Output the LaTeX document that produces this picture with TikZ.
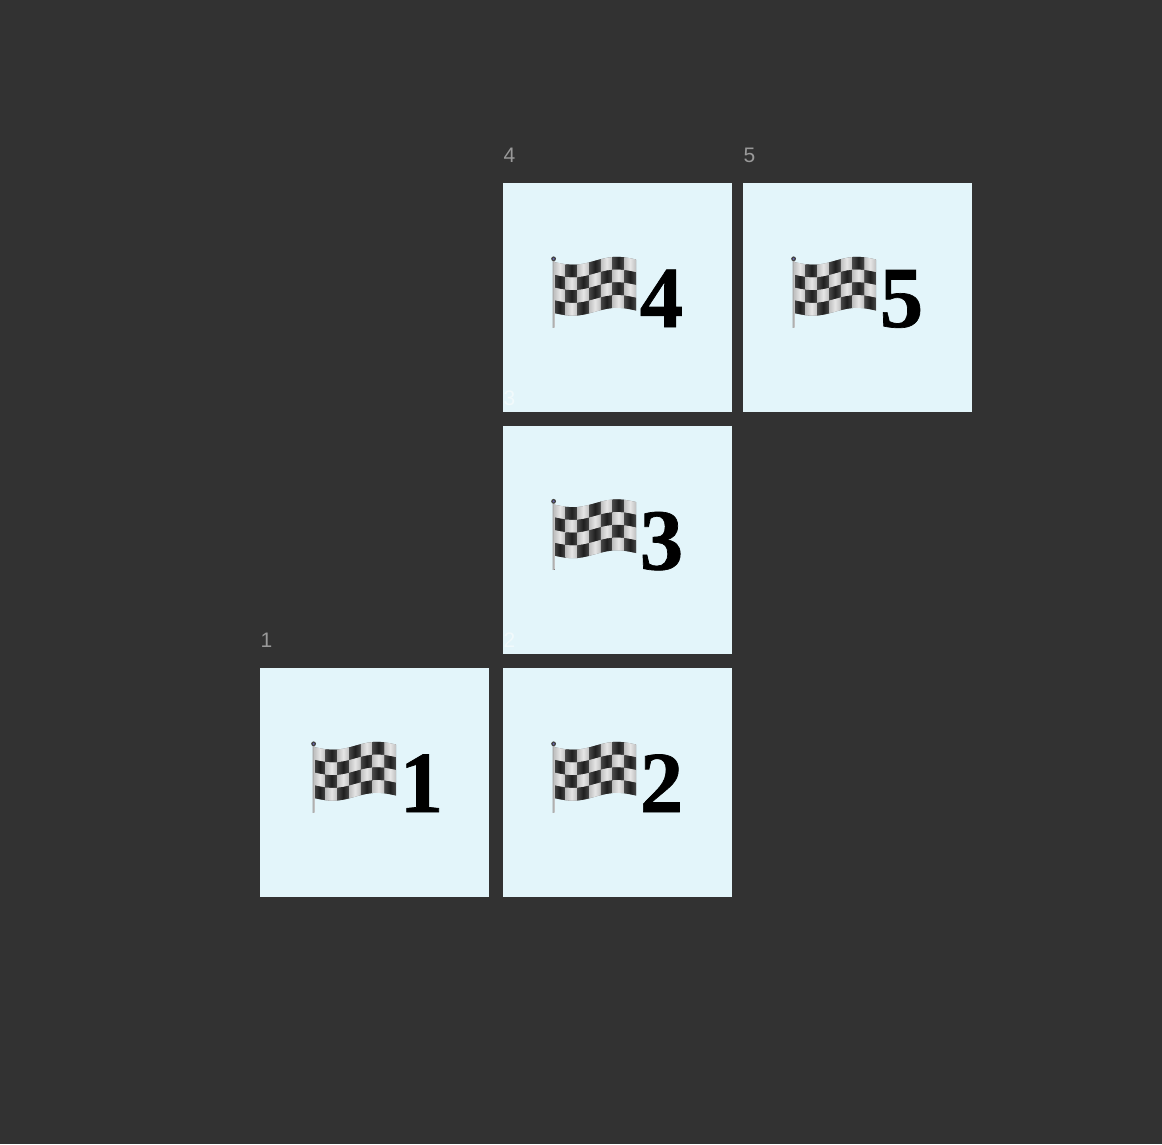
\documentclass[tikz,border=0pt]{standalone}
\usepackage{fontspec}
\setmainfont{Liberation Serif}[BoldFeatures={FakeBold=0.8}]
\setsansfont{Liberation Sans}
\definecolor{bgc}{HTML}{323232}
\definecolor{cellc}{HTML}{E3F5FA}
\definecolor{labc}{HTML}{999999}
\definecolor{labin}{HTML}{F1FAFC}
\tikzset{
  x=1pt,y=-1pt,
  declare function={fw(\u)=3.3*sin(360*\u)-2.5*\u;},
  cellbox/.style={anchor=north west,inner sep=0pt,outer sep=0pt,fill=cellc,draw=none,minimum width=229pt,minimum height=228.5pt},
  idlab/.style={anchor=base west,inner sep=0pt,font=\sffamily\fontsize{21}{21}\selectfont,text=labc},
  idlabin/.style={idlab,text=labin},
  bignum/.style={anchor=base west,inner sep=0pt,font=\bfseries\fontsize{87}{87}\selectfont,text=black},
  lightsq/.style={left color=black!25,right color=black!25,middle color=black!10},
  darksq/.style={left color=black!72,right color=black!72,middle color=black!88},
}
% #1,#2: foot of the pole
\newcommand{\checkflag}[2]{%
  \begin{scope}[shift={(#1,#2-69)}]
    \fill[black!55] plot[smooth,domain=0:1,samples=15] ({1+82*\x},{4+fw(\x)}) -- plot[smooth,domain=1:0,samples=15] ({1+82*\x},{55+fw(\x)}) -- cycle;
    \foreach \i in {0,...,6}{
      \foreach \j in {0,...,3}{
        \pgfmathsetmacro{\ua}{\i/7}
        \pgfmathsetmacro{\um}{(\i+.5)/7}
        \pgfmathsetmacro{\ub}{(\i+1)/7}
        \pgfmathtruncatemacro{\odd}{mod(\i+\j,2)}
        \pgfmathsetmacro{\ya}{4+51*\j/4}
        \pgfmathsetmacro{\yb}{4+51*(\j+1)/4}
        \ifnum\odd=1 \def\sq{darksq}\else \def\sq{lightsq}\fi
        \path[\sq]
          ({1+82*\ua},{\ya+fw(\ua)}) -- ({1+82*\um},{\ya+fw(\um)}) -- ({1+82*\ub},{\ya+fw(\ub)})
          -- ({1+82*\ub},{\yb+fw(\ub)}) -- ({1+82*\um},{\yb+fw(\um)}) -- ({1+82*\ua},{\yb+fw(\ua)}) -- cycle;
      }
    }
    \fill[left color=black!35,right color=black!20] (-0.5,1) rectangle (1.5,69);
    \fill[black!75] (0.6,0.8) circle (2.4);
    \fill[blue!45!black!60!white] (0.6,0.8) circle (1.1);
  \end{scope}
}
\begin{document}
\begin{tikzpicture}
  \useasboundingbox (0,0) rectangle (1162,1144);
  \fill[bgc] (0,0) rectangle (1162,1144);
  \node[cellbox] (box4) at (503,183) {};
  \node[cellbox] (box5) at (743.2,183) {};
  \node[cellbox] (box3) at (503,425.5) {};
  \node[cellbox] (box2) at (503,668) {};
  \node[cellbox] (box1) at (260.3,668) {};
  \node[idlab] (lab4) at (503.5,162.5) {4};
  \node[idlab] (lab5) at (743.5,162.5) {5};
  \node[idlabin] (lab3) at (503.5,405) {3};
  \node[idlabin] (lab2) at (503.5,647.5) {2};
  \node[idlab] (lab1) at (260.5,647.5) {1};
  \checkflag{553}{327}
  \checkflag{793}{327}
  \checkflag{553}{569.5}
  \checkflag{553}{812}
  \checkflag{313}{812}
  \node[bignum] (num4) at (639.5,327) {4};
  \node[bignum] (num5) at (879.5,327) {5};
  \node[bignum] (num3) at (639.5,569.5) {3};
  \node[bignum] (num2) at (639.5,812) {2};
  \node[bignum] (num1) at (399.5,812) {1};
\end{tikzpicture}
\end{document}
